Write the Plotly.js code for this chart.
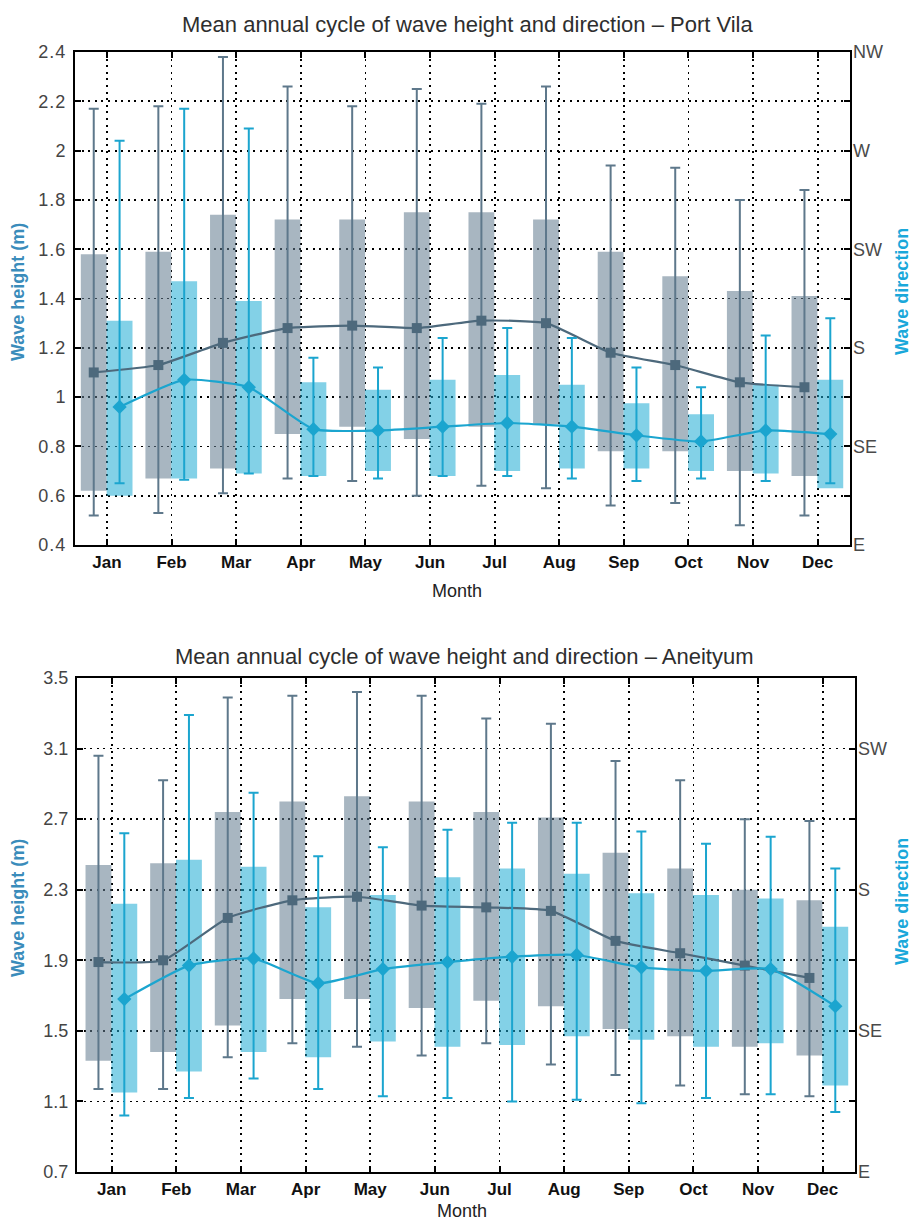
<!DOCTYPE html>
<html>
<head>
<meta charset="utf-8">
<script src="https://cdn.plot.ly/plotly-3.0.1.min.js"></script>
<style>html,body{margin:0;padding:0;background:#fff;}#chart{width:913px;height:1220px;}
.ytick text{letter-spacing:1px;}</style>
</head>
<body>
<div id="chart"></div>
<script>
// ---------- data ----------
const months = ['Jan','Feb','Mar','Apr','May','Jun','Jul','Aug','Sep','Oct','Nov','Dec'];

// Port Vila - wave height (m)
const pvHsMean = [1.10,1.13,1.22,1.28,1.29,1.28,1.31,1.30,1.18,1.13,1.06,1.04];
const pvHsQ1   = [0.62,0.67,0.71,0.85,0.88,0.83,0.88,0.89,0.78,0.78,0.70,0.68];
const pvHsQ3   = [1.58,1.59,1.74,1.72,1.72,1.75,1.75,1.72,1.59,1.49,1.43,1.41];
const pvHsMin  = [0.52,0.53,0.61,0.67,0.66,0.60,0.64,0.63,0.56,0.57,0.48,0.52];
const pvHsMax  = [2.17,2.18,2.38,2.26,2.18,2.25,2.19,2.26,1.94,1.93,1.80,1.84];
// Port Vila - wave direction (plotted on same scale)
const pvDirMean = [0.96,1.07,1.04,0.87,0.865,0.88,0.895,0.88,0.845,0.82,0.865,0.85];
const pvDirQ1   = [0.60,0.67,0.69,0.68,0.70,0.68,0.70,0.71,0.71,0.70,0.69,0.63];
const pvDirQ3   = [1.31,1.47,1.39,1.06,1.03,1.07,1.09,1.05,0.975,0.93,1.05,1.07];
const pvDirMin  = [0.65,0.665,0.69,0.68,0.67,0.68,0.68,0.67,0.66,0.67,0.66,0.65];
const pvDirMax  = [2.04,2.17,2.09,1.16,1.12,1.24,1.28,1.24,1.12,1.04,1.25,1.32];
const pvHsTicks  = [0.4,0.6,0.8,1.0,1.2,1.4,1.6,1.8,2.0,2.2,2.4];
const pvHsTickText = ['0.4','0.6','0.8','1','1.2','1.4','1.6','1.8','2','2.2','2.4'];
const pvDirTicks = [0.4,0.8,1.2,1.6,2.0,2.4];
const pvDirLabels = ['E','SE','S','SW','W','NW'];

// Aneityum - wave height (m)
const anHsMean = [1.89,1.90,2.14,2.24,2.26,2.21,2.20,2.18,2.01,1.94,1.87,1.80];
const anHsQ1   = [1.33,1.38,1.53,1.68,1.68,1.63,1.67,1.64,1.51,1.47,1.41,1.36];
const anHsQ3   = [2.44,2.45,2.74,2.80,2.83,2.80,2.74,2.71,2.51,2.42,2.30,2.24];
const anHsMin  = [1.17,1.17,1.35,1.43,1.41,1.36,1.43,1.31,1.25,1.19,1.14,1.13];
const anHsMax  = [3.06,2.92,3.39,3.40,3.42,3.40,3.27,3.24,3.03,2.92,2.70,2.69];
// Aneityum - wave direction
const anDirMean = [1.68,1.87,1.91,1.77,1.85,1.89,1.92,1.93,1.86,1.84,1.85,1.64];
const anDirQ1   = [1.15,1.27,1.38,1.35,1.44,1.41,1.42,1.47,1.45,1.41,1.43,1.19];
const anDirQ3   = [2.22,2.47,2.43,2.20,2.27,2.37,2.42,2.39,2.28,2.27,2.25,2.09];
const anDirMin  = [1.02,1.12,1.23,1.17,1.13,1.12,1.10,1.11,1.09,1.12,1.14,1.04];
const anDirMax  = [2.62,3.29,2.85,2.49,2.54,2.64,2.68,2.68,2.63,2.56,2.60,2.42];
const anHsTicks  = [0.7,1.1,1.5,1.9,2.3,2.7,3.1,3.5];
const anHsTickText = ['0.7','1.1','1.5','1.9','2.3','2.7','3.1','3.5'];
const anDirTicks = [0.7,1.5,2.3,3.1];
const anDirLabels = ['E','SE','S','SW'];

// ---------- styling ----------
const W = 913, H = 1220;
const OFF_G = -0.205, OFF_C = 0.195, BAR_W = 0.40;
const GRAY_BAR = 'rgba(100,125,145,0.56)';
const GRAY_WHISK = '#5e788b';
const GRAY_LINE = '#4d697c';
const CYAN_BAR = 'rgba(30,172,212,0.55)';
const CYAN_LINE = '#1ba5cf';
const FONT = 'Liberation Sans, Arial, Helvetica, sans-serif';
const monthIdx = months.map((m, i) => i + 1);

function barTrace(q1, q3, off, color, xa, ya) {
  return {
    type: 'bar', x: monthIdx.map(v => v + off), y: q3.map((v, i) => v - q1[i]), base: q1,
    width: BAR_W, marker: {color: color, line: {width: 0}}, xaxis: xa, yaxis: ya,
    hoverinfo: 'skip', showlegend: false
  };
}
function lineTrace(mean, lo, hi, off, lineColor, whiskColor, symbol, msize, xa, ya) {
  return {
    type: 'scatter', mode: 'lines+markers', x: monthIdx.map(v => v + off), y: mean,
    line: {color: lineColor, width: 2.2, shape: 'spline', smoothing: 0.5},
    marker: {symbol: symbol, size: msize, color: lineColor},
    error_y: {type: 'data', symmetric: false, array: hi.map((v, i) => v - mean[i]),
              arrayminus: mean.map((v, i) => v - lo[i]), color: whiskColor, thickness: 2, width: 5},
    xaxis: xa, yaxis: ya, showlegend: false, hoverinfo: 'skip'
  };
}
// empty traces so that the right-hand direction axes are drawn
function axisHolder(xa, ya) {
  return {type: 'scatter', mode: 'markers', x: [], y: [], xaxis: xa, yaxis: ya, showlegend: false, hoverinfo: 'skip'};
}

const data = [
  barTrace(pvHsQ1, pvHsQ3, OFF_G, GRAY_BAR, 'x', 'y'),
  barTrace(pvDirQ1, pvDirQ3, OFF_C, CYAN_BAR, 'x', 'y'),
  lineTrace(pvHsMean, pvHsMin, pvHsMax, OFF_G, GRAY_LINE, GRAY_WHISK, 'square', 10, 'x', 'y'),
  lineTrace(pvDirMean, pvDirMin, pvDirMax, OFF_C, CYAN_LINE, CYAN_LINE, 'diamond', 11, 'x', 'y'),
  barTrace(anHsQ1, anHsQ3, OFF_G, GRAY_BAR, 'x2', 'y2'),
  barTrace(anDirQ1, anDirQ3, OFF_C, CYAN_BAR, 'x2', 'y2'),
  lineTrace(anHsMean, anHsMin, anHsMax, OFF_G, GRAY_LINE, GRAY_WHISK, 'square', 10, 'x2', 'y2'),
  lineTrace(anDirMean, anDirMin, anDirMax, OFF_C, CYAN_LINE, CYAN_LINE, 'diamond', 11, 'x2', 'y2'),
  axisHolder('x', 'y3'),
  axisHolder('x2', 'y4')
];

const gridCommon = {
  showgrid: true, gridcolor: '#000', gridwidth: 1.8, griddash: '2px,4.6px',
  zeroline: false, showline: true, linecolor: '#000', linewidth: 2, mirror: 'ticks',
  ticks: 'inside', ticklen: 6, tickwidth: 2, tickcolor: '#000', fixedrange: true
};
const xTickFont = {family: FONT, size: 17, color: '#111', weight: 'bold'};
const yTickFont = {family: FONT, size: 18, color: '#444'};
const dirTickFont = {family: FONT, size: 18, color: '#4a4a4a'};
function px2x(p) { return p / W; }
function py2y(p) { return 1 - p / H; }
function ann(text, px, py, size, color, angle) {
  return {text: text, xref: 'paper', yref: 'paper', x: px2x(px), y: py2y(py),
          xanchor: 'center', yanchor: 'middle', showarrow: false, textangle: angle || 0,
          font: {family: FONT, size: size, color: color}};
}

const layout = {
  width: W, height: H, margin: {l: 0, r: 0, t: 0, b: 0},
  paper_bgcolor: '#fff', plot_bgcolor: 'rgba(0,0,0,0)',
  barmode: 'overlay', showlegend: false,
  font: {family: FONT},
  xaxis: Object.assign({}, gridCommon, {
    domain: [px2x(75), px2x(850)], range: [0.505, 12.5], anchor: 'y',
    tickvals: monthIdx, ticktext: months, ticklabelstandoff: 1, tickfont: xTickFont
  }),
  yaxis: Object.assign({}, gridCommon, {
    domain: [py2y(545), py2y(52)], range: [0.4, 2.4], anchor: 'x',
    tickvals: pvHsTicks, ticktext: pvHsTickText, ticklabelstandoff: 3, tickfont: yTickFont
  }),
  yaxis3: {
    overlaying: 'y', side: 'right', anchor: 'x', range: [0.4, 2.4],
    tickvals: pvDirTicks, ticktext: pvDirLabels, ticks: '', showgrid: false, zeroline: false,
    showline: false, tickfont: dirTickFont, fixedrange: true, ticklabelstandoff: 2
  },
  xaxis2: Object.assign({}, gridCommon, {
    domain: [px2x(77), px2x(855)], range: [0.463, 12.5], anchor: 'y2',
    tickvals: monthIdx, ticktext: months, ticklabelstandoff: 1, tickfont: xTickFont
  }),
  yaxis2: Object.assign({}, gridCommon, {
    domain: [py2y(1172), py2y(678)], range: [0.7, 3.5], anchor: 'x2',
    tickvals: anHsTicks, ticktext: anHsTickText, ticklabelstandoff: 3, tickfont: yTickFont
  }),
  yaxis4: {
    overlaying: 'y2', side: 'right', anchor: 'x2', range: [0.7, 3.5],
    tickvals: anDirTicks, ticktext: anDirLabels, ticks: '', showgrid: false, zeroline: false,
    showline: false, tickfont: dirTickFont, fixedrange: true, ticklabelstandoff: 2
  },
  annotations: [
    ann('Mean annual cycle of wave height and direction – Port Vila', 468, 25, 22, '#2e2e2e'),
    ann('Mean annual cycle of wave height and direction – Aneityum', 464, 656, 22, '#2e2e2e'),
    ann('Month', 457, 591, 18, '#222'),
    ann('Month', 462, 1211, 18, '#222'),
    ann('<b>Wave height (m)</b>', 18, 292, 18, '#3a8cbb', -90),
    ann('<b>Wave direction</b>', 902, 292, 18, '#1aa8da', -90),
    ann('<b>Wave height (m)</b>', 18, 908, 18, '#3a8cbb', -90),
    ann('<b>Wave direction</b>', 902, 902, 18, '#1aa8da', -90)
  ]
};

Plotly.newPlot('chart', data, layout, {staticPlot: true, displayModeBar: false});
</script>
</body>
</html>
